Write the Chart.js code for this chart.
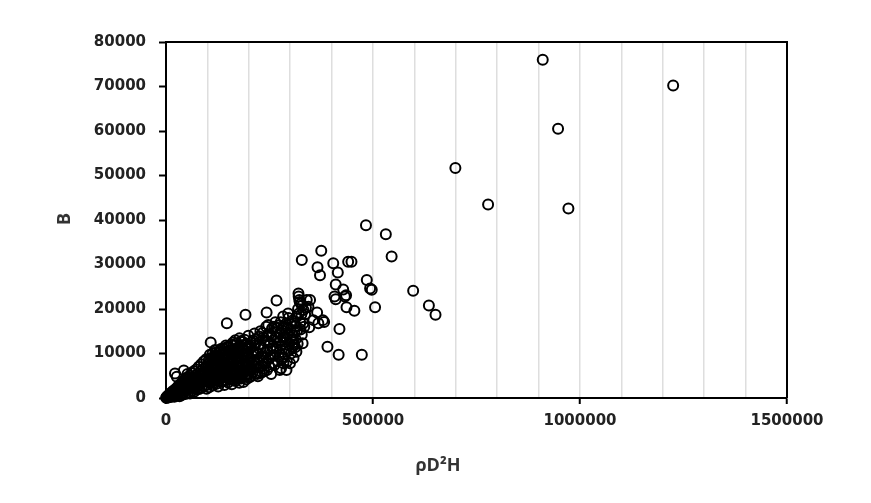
<!DOCTYPE html>
<html>
<head>
<meta charset="utf-8">
<script src="https://cdn.jsdelivr.net/npm/chart.js@4.4.0/dist/chart.umd.min.js"></script>
<style>
  body { margin: 0; background: #fff; }
</style>
</head>
<body>
<canvas id="myChartScatter" width="871" height="503"></canvas>
<script>
// tick labels
var xTicks = [0, 500000, 1000000, 1500000];
var yTicks = [0, 10000, 20000, 30000, 40000, 50000, 60000, 70000, 80000];
var xTitle = 'ρD²H';
var yTitle = 'B';

// small trees, dense blob near the origin  [rhoD2H, B]
var coreSamples = [
  [500,50],[1200,150],[2000,80],[2500,300],[3500,200],[4000,450],[5000,120],[6000,600],
  [7000,350],[8000,800],[9000,250],[10000,550],[11000,1000],[12000,300],[13000,700],
  [14000,1300],[15000,450],[16000,900],[17000,1600],[18000,600],[19000,1100],[20000,300],
  [21000,1800],[21700,5500],[22000,800],[23000,1400],[24000,2100],[25000,500],[26000,4800],
  [26500,1000],[27000,1700],[28000,2500],[29000,700],[30000,1300],[31000,2000],[32000,2900],
  [33000,400],[34000,1000],[35000,1600],[36000,2400],[37000,3300],[38000,700],[39000,1900],
  [40000,2800],[41000,3700],[42000,1200],[43000,6200],[44000,2300],[45000,3100],[46000,4200],
  [47000,900],[48000,1600],[49000,2600],[50000,3500],[51000,4600],[52000,5400],[53000,1300],
  [54000,2000],[55000,3000],[56000,3900],[57000,5000],[58000,1000],[59000,2300],[60000,3300],
  [61000,4300],[62000,5600],[63000,1700],[64000,2700],[65000,3700],[66000,4700],[67000,6000],
  [68000,1400],[69000,2200],[70000,3000],[71000,4000],[72000,5100],[73000,6400],[74000,1900],
  [75000,2600],[76000,3500],[77000,4500],[78000,5500],[79000,7000],[80000,2000],[81000,3000],
  [82000,4000],[83000,5000],[84000,6000],[85000,7600],[86000,2300],[87000,3400],[88000,4400],
  [89000,5400],[90000,6500],[91000,8200],[92000,2700],[93000,3800],[94000,4800],[95000,5900],
  [96000,7000],[97000,8700],[98000,2100],[99000,4200]
];

// middle of the band
var midSamples = [
  [100000,3000],[101000,5000],[102000,6800],[103000,8400],[104000,2400],[105000,4200],
  [106000,9700],[107000,6000],[108000,12500],[109000,3500],[110000,7500],[111000,5200],
  [112000,8800],[113000,2800],[114000,4600],[115000,6400],[116000,9300],[117000,3900],
  [118000,7200],[119000,5600],[120000,8300],[121000,10200],[122000,3200],[123000,4900],
  [124000,6700],[125000,9000],[126000,2600],[127000,5800],[128000,7800],[129000,4300],
  [130000,10600],[131000,6300],[132000,8600],[133000,3600],[134000,5200],[135000,7200],
  [136000,9600],[137000,4700],[138000,11200],[139000,6100],[140000,8100],[141000,2900],
  [142000,5500],[143000,7500],[144000,9900],[145000,4000],[146000,6700],[147000,16800],
  [148000,8800],[149000,11500],[150000,3500],[151000,5000],[152000,7000],[153000,9200],
  [154000,4400],[155000,10700],[156000,6200],[157000,8300],[158000,12000],[159000,3100],
  [160000,5600],[161000,7700],[162000,12500],[163000,9800],[164000,4800],[165000,6600],
  [166000,8700],[167000,11000],[168000,3800],[169000,5900],[170000,7300],[171000,10100],
  [172000,12300],[173000,4400],[174000,6900],[175000,9000],[176000,11600],[177000,3400],
  [178000,5300],[179000,8000],[180000,10400],[181000,6200],[182000,12800],[183000,4700],
  [184000,7600],[185000,9600],[186000,11200],[187000,3600],[188000,5800],[189000,8500],
  [190000,13100],[191000,6800],[192000,18700],[193000,10500],[194000,4200],[195000,7200],
  [196000,12000],[197000,9100],[198000,5500],[199000,14000],[200000,8000],[202000,11000],
  [204000,4800],[206000,6500],[208000,9500],[210000,12900],[212000,7300],[214000,14500],
  [216000,5500],[218000,10300],[220000,8600],
  [100500,6000],[101500,7600],[102500,4000],[103500,5600],[105500,8000],[106500,3400],
  [107500,7000],[108500,5000],[109500,9000],[110500,4000],[111500,6600],[112500,10000],
  [113500,5400],[114500,7800],[115500,3400],[116500,5000],[117500,8600],[118500,10800],
  [119500,4200],[120500,6400],[122500,7400],[123500,9600],[124500,5200],[125500,3800],
  [126500,7000],[127500,10200],[128500,6000],[129500,8400],[131500,4600],[132500,11000],
  [133500,7000],[134500,9000],[135500,5600],[136500,3800],[137500,8000],[138500,6200],
  [139500,10000],[141500,7000],[142500,9400],[143500,4600],[144500,11800],[145500,6000],
  [146500,8400],[148500,4800],[149500,7200],[151500,9800],[152500,11400],[153500,6000],
  [154500,8000],[156500,4200],[157500,10000],[158500,7000],[159500,9000],[161500,5000],
  [162500,4000],[163500,11800],[164500,7200],[165500,9600],[166500,5600],[167500,13000],
  [169500,8000],[170500,4600],[171500,6200],[172500,9200],[174500,11000],[175500,5000],
  [176500,7800],[177500,13400],[179500,6000],[180500,8800],[181500,4400],[183500,11000],
  [184500,5400],[185500,12600],[186500,7400],[188500,10000],[189500,4800],[190500,6000],
  [191500,9200],[193500,12200],[194500,7600],[195500,5000],[196500,9800],[197500,11600],
  [198500,7400],[199500,4600],[201000,6400],[203000,9000],[205000,12400],[207000,7800],
  [209000,5800],[211000,10200],[213000,8400],[215000,11800],[217000,7000],[219000,13200],
  [220500,5400]
];

// upper end of the band
var largeSamples = [
  [222000,4900],[224000,12000],[226000,6900],[228000,15000],[230000,9400],[232000,5800],
  [234000,11200],[236000,13600],[238000,7700],[240000,10200],[242000,16000],[243000,19200],
  [244000,6300],[246000,12600],[248000,8800],[250000,14400],[252000,11000],[254000,5400],
  [256000,15600],[258000,9600],[260000,13000],[262000,7400],[264000,17000],[266000,11600],
  [267000,21900],[268000,14800],[270000,8300],[272000,16300],[274000,10300],[275000,6300],
  [276000,12800],[278000,6700],[280000,15200],[283000,18300],[283500,7800],[284000,9200],
  [286000,13600],[288000,11000],[290000,16700],[291000,6300],[292000,8200],[294000,14200],
  [295000,19000],[296000,18000],[298000,12300],[299500,7800],[300000,15400],[302000,10000],
  [304000,13000],[306000,17400],[308000,9000],[310000,14800],[312000,11400],[314000,16200],
  [316000,18300],[318000,12200],[320000,23500],[320500,22800],[322000,22000],[323000,21600],
  [324000,17000],[326000,21200],[328000,14200],[330000,12300],[331600,16800],[332000,19800],
  [334000,16000],[336000,18800],[338000,20300],
  [221000,10000],[223000,8000],[225000,13800],[227000,5600],[229000,11400],[231000,7200],
  [233000,14600],[235000,9200],[237000,6000],[239000,12800],[241000,8000],[243500,14000],
  [245000,10400],[247000,16400],[249000,7000],[251000,12400],[253000,9200],[255000,13800],
  [257000,7800],[259000,11200],[261000,16000],[263000,9600],[265000,13600],[267500,11000],
  [269000,15800],[271000,12400],[273000,9200],[275500,14600],[277000,17000],[279000,11800],
  [281000,8800],[282500,13600],[285000,15800],[287000,9800],[289000,12600],[293000,15800],
  [297000,10600],[301000,13600],[303000,16600],[305000,11400],[307000,14000],[309000,12000],
  [311000,16800],[313000,13200],[315000,10400],[317000,15200],[319000,20000],[321000,19000],
  [325000,15400],[327000,18800],[329000,20800]
];

// big trees, scattered
var sparseSamples = [
  [328000,31000],[340000,22000],[344000,20500],[346000,15900],[348000,22000],[356000,17500],
  [365000,19200],[366000,29400],[368000,16800],[372000,27600],[375000,33100],[379000,17500],
  [382000,17100],[390000,11500],[404000,30300],[407000,22800],[410000,22200],[410000,25500],
  [415000,28200],[417000,9700],[419000,15500],[428000,24400],[432000,22800],[435000,23100],
  [436000,20400],[440000,30600],[448000,30600],[455000,19600],[473000,9700],[483000,38800],
  [485000,26500],[493000,24600],[497000,24300],[505000,20400],[531000,36800],[545000,31800],
  [597000,24100],[635000,20800],[651000,18700],[699000,51700],[778000,43500],[910000,76000],
  [947000,60500],[972000,42600],[1225000,70200]
];

var allSamples = coreSamples.concat(midSamples, largeSamples, sparseSamples);
var dataPoints = [];
for (var i = 0; i < allSamples.length; i++) {
  dataPoints.push({x: allSamples[i][0], y: allSamples[i][1]});
}

var textColor = '#222';
var tickFont = {family: 'DejaVu Sans', size: 15, weight: 'bold'};

// frame on top/right + axis titles
var framePlugin = {
  id: 'frame',
  afterDraw: function(chart) {
    var c = chart.ctx;
    var a = chart.chartArea;
    c.save();
    c.strokeStyle = '#000';
    c.lineWidth = 2;
    c.beginPath();
    c.moveTo(a.left, a.top);
    c.lineTo(a.right, a.top);
    c.lineTo(a.right, a.bottom);
    c.stroke();

    c.fillStyle = '#333';
    c.font = 'bold 18px "Open Sans"';
    c.textAlign = 'center';
    c.textBaseline = 'middle';
    c.fillText(xTitle, 438, 466);
    c.translate(65, 219);
    c.rotate(-Math.PI / 2);
    c.fillText(yTitle, 0, 0);
    c.restore();
  }
};

var ctx = document.getElementById('myChartScatter');
var chart = new Chart(ctx, {
  type: 'scatter',
  data: {
    datasets: [{
      data: dataPoints,
      pointRadius: 5,
      pointHoverRadius: 5,
      pointBorderWidth: 2,
      pointBorderColor: '#000',
      pointBackgroundColor: 'rgba(0,0,0,0)',
      clip: false
    }]
  },
  options: {
    responsive: false,
    animation: false,
    devicePixelRatio: 1,
    layout: {padding: {left: 0, right: 84, top: 42, bottom: 25}},
    plugins: {
      legend: {display: false},
      tooltip: {enabled: false}
    },
    scales: {
      x: {
        type: 'linear',
        min: 0,
        max: 1500000,
        afterFit: function(scale) { scale.height = 80; },
        border: {color: '#000', width: 2},
        grid: {
          color: function(c) {
            var v = c.tick ? c.tick.value : 0;
            return (v === 0 || v === 1500000) ? 'rgba(0,0,0,0)' : '#dedede';
          },
          lineWidth: 1.5,
          tickLength: 6,
          tickWidth: 2,
          tickColor: function(c) {
            return (c.tick && xTicks.indexOf(c.tick.value) >= 0) ? '#000' : 'rgba(0,0,0,0)';
          }
        },
        ticks: {
          stepSize: 100000,
          autoSkip: false,
          maxRotation: 0,
          padding: 8,
          color: textColor,
          font: tickFont,
          callback: function(v) { return xTicks.indexOf(v) >= 0 ? String(v) : ''; }
        }
      },
      y: {
        type: 'linear',
        min: 0,
        max: 80000,
        afterFit: function(scale) { scale.width = 166; },
        border: {color: '#000', width: 2},
        grid: {
          drawOnChartArea: false,
          tickLength: 7,
          tickWidth: 2,
          tickColor: '#000'
        },
        ticks: {
          stepSize: 10000,
          padding: 13,
          color: textColor,
          font: tickFont,
          callback: function(v) { return yTicks.indexOf(v) >= 0 ? String(v) : ''; }
        }
      }
    }
  },
  plugins: [framePlugin]
});
</script>
</body>
</html>
